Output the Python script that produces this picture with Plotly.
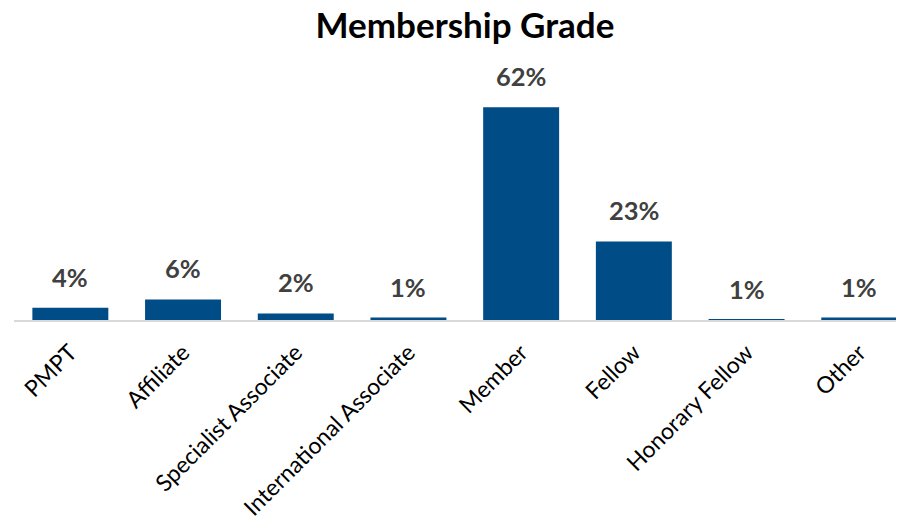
import plotly.graph_objects as go

categories = ["PMPT", "Affiliate", "Specialist Associate", "International Associate",
              "Member", "Fellow", "Honorary Fellow", "Other"]
values = [3.6, 6.0, 1.9, 0.7, 62.0, 22.9, 0.1, 0.7]
labels = ["4%", "6%", "2%", "1%", "62%", "23%", "1%", "1%"]

BAR = "#004C87"
FONT = "Lato"

fig = go.Figure()
fig.add_trace(go.Bar(
    x=categories, y=values,
    marker=dict(color=BAR, line=dict(width=0)),
    hoverinfo="skip",
))

for c, v, t in zip(categories, values, labels):
    fig.add_annotation(
        x=c, y=v, text=t, showarrow=False,
        yanchor="bottom", yshift=14,
        font=dict(family=FONT, size=25.5, color="#404040", weight="bold"),
    )

fig.update_layout(
    width=904, height=532,
    margin=dict(l=6, r=0, t=52, b=220, autoexpand=False),
    paper_bgcolor="white", plot_bgcolor="white",
    bargap=0.326,
    showlegend=False,
    title=dict(
        text="<b>Membership Grade</b>",
        x=0.5055, xanchor="center", y=0.966, yanchor="middle",
        font=dict(family=FONT, size=35, color="#000000"),
    ),
    xaxis=dict(
        range=[-0.5, 7.468],
        automargin=False,
        showgrid=False, zeroline=False,
        showline=True, linecolor="#D9D9D9", linewidth=2,
        ticks="outside", ticklen=8, tickcolor="rgba(0,0,0,0)",
        tickangle=-45,
        tickfont=dict(family=FONT, size=23, color="#000000"),
    ),
    yaxis=dict(
        range=[0, 75.8],
        automargin=False,
        visible=False, showgrid=False, zeroline=False,
    ),
)

fig.write_html("out.html")
